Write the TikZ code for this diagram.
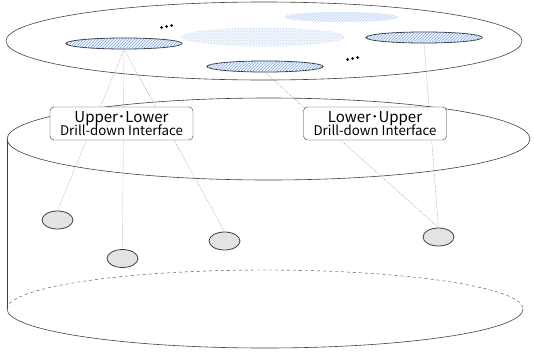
\documentclass[tikz,border=0pt]{standalone}
\usepackage{fontspec}
\newfontfamily\cjkfont{Noto Sans CJK JP}
\usetikzlibrary{shapes.geometric,patterns}

\def\planeShape{(264, 41) ellipse [x radius=258, y radius=39]}
\def\cylTop{(268.5, 139) ellipse [x radius=261.5, y radius=41]}
\definecolor{sky}{RGB}{110,160,225}
\colorlet{plane edge}{black!75}
\colorlet{region fill}{sky!12}
\colorlet{region hatch}{sky!85}
\colorlet{leaf area}{gray!22}
\colorlet{link line}{gray!80}
\tikzset{
  region/.style={ellipse, draw=black!80, thick, fill=region fill, inner sep=0pt,
    minimum width=116pt, minimum height=11pt,
    postaction={pattern=north east lines, pattern color=region hatch}},
  faint/.style={ellipse, inner sep=0pt, fill=sky!8},
  leaf/.style={ellipse, draw=black!75, thick, fill=leaf area, inner sep=0pt,
    minimum width=31pt, minimum height=18pt},
  iface/.style={draw=black!80, fill=white, rounded corners=4pt, align=center,
    minimum width=143pt, minimum height=33pt, inner sep=1pt, font=\cjkfont},
  link/.style={draw=link line, line width=0.4pt, dash pattern=on 1pt off 1pt}
  }

\begin{document}
\begin{tikzpicture}[x=1pt, y=-1pt]
  \useasboundingbox (0, 0) rectangle (534, 351);

  % upper plane
  \draw[plane edge, semithick] \planeShape;
  \node[faint, minimum width=164pt, minimum height=19pt,
    postaction={pattern=crosshatch dots, pattern color=sky!45}] (mid) at (263, 37) {};
  \node[faint, minimum width=114pt, minimum height=10pt,
    postaction={pattern=north east lines, pattern color=sky!50}] (far) at (341, 17) {};

  \foreach \pos/\name in {{(124, 43.5)/ra}, {(265, 66.5)/rb}, {(424, 37.5)/rc}} {
    \node[region] (\name) at \pos {};
  }

  \foreach \pos in {(161.5, 27.5), (166.5, 26.5), (171.5, 25.5), (347.5, 59.5), (352.5, 58.5), (357.5, 57.5)} {
    \fill \pos circle (1.5pt);
  }

  % cylinder
  \draw[plane edge, semithick] \cylTop;
  \draw[plane edge, semithick] (7, 139) -- (7, 309);
  \draw[plane edge, semithick] (7, 309) arc [start angle=180, end angle=0, x radius=258, y radius=39];
  \draw[plane edge, dashed] (7, 309) arc [start angle=180, end angle=360, x radius=258, y radius=39];

  % lower nodes
  \foreach \pos/\name in {{(57.5, 220)/la}, {(122.5, 258.5)/lb}, {(224.5, 241)/lc}, {(438.5, 237)/ld}} {
    \node[leaf] (\name) at \pos {};
  }

  % drill-down links
  \path[link] (ra.south) -- (la.north);
  \path[link] (ra.south) -- (lb.north);
  \path[link] (ra.south) -- (lc.north);
  \path[link] (rb.south) -- (ld.north);
  \path[link] (rc.south) -- (ld.north);

  \node[iface] (up) at (121.5, 123.5) {{\fontsize{15}{16}\selectfont Upper･Lower}\\[-3pt]{\fontsize{13.3}{14}\selectfont Drill-down Interface}};
  \node[iface] (down) at (375, 123.5) {{\fontsize{15}{16}\selectfont Lower･Upper}\\[-3pt]{\fontsize{13.3}{14}\selectfont Drill-down Interface}};
\end{tikzpicture}
\end{document}
